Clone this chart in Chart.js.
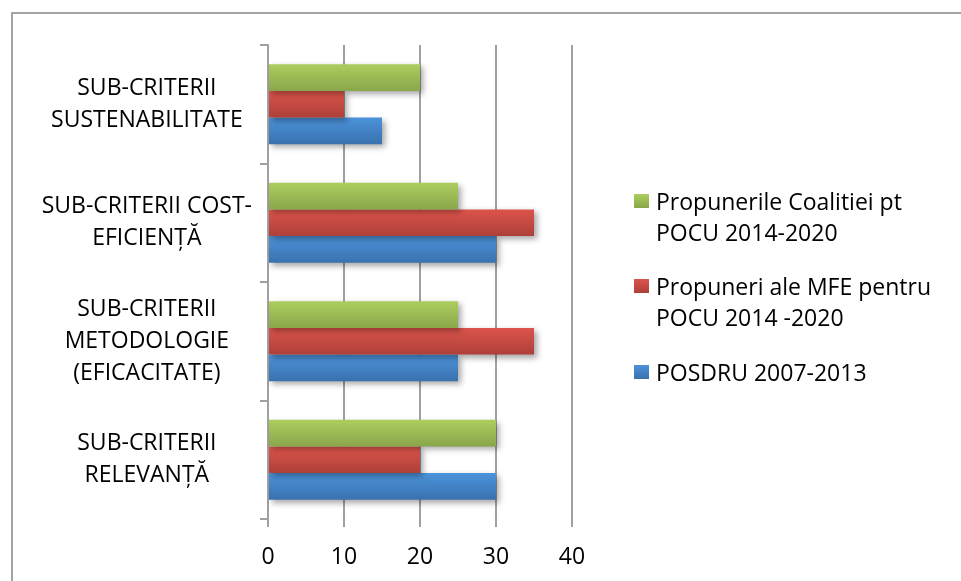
<!DOCTYPE html>
<html>
<head>
<meta charset="utf-8">
<script src="https://cdn.jsdelivr.net/npm/chart.js@4"></script>
<style>
    body { margin: 0; background: #fff; }
    #wrap { position: relative; width: 961px; height: 581px; overflow: hidden; font-family: "Open Sans", sans-serif; }
    #frame { position: absolute; left: 11px; top: 12px; width: 980px; height: 600px; border-left: 2px solid #a3a3a3; border-top: 2px solid #a3a3a3; }
    canvas { position: absolute; left: 0; top: 0; }
    .leg { position: absolute; left: 634px; font-size: 23px; line-height: 31px; color: #000; }
    .leg span.box { position: absolute; left: 0; top: 8px; width: 15px; height: 14px; }
    .leg div.txt { margin-left: 22px; white-space: nowrap; }
</style>
</head>
<body>
<div id="wrap">
    <div id="frame"></div>
    <canvas id="chart" width="961" height="581"></canvas>
    <div id="legend"></div>
</div>
<script>
// Datos del gráfico
const categorias = [
    ['SUB-CRITERII', 'SUSTENABILITATE'],
    ['SUB-CRITERII COST-', 'EFICIENȚĂ'],
    ['SUB-CRITERII', 'METODOLOGIE', '(EFICACITATE)'],
    ['SUB-CRITERII', 'RELEVANȚĂ']
];
const seriesNombres = [
    ['Propunerile Coalitiei pt', 'POCU 2014-2020'],
    ['Propuneri ale MFE pentru', 'POCU 2014 -2020'],
    ['POSDRU 2007-2013']
];
const coalitie = [20, 25, 25, 30];
const mfe = [10, 35, 35, 20];
const posdru = [15, 30, 25, 30];
const ticksX = [0, 10, 20, 30, 40];

// Colores (arriba claro, abajo oscuro)
const colores = [
    ['#acce5e', '#8aa64b'],
    ['#dc544b', '#ad4039'],
    ['#4b93db', '#3a71ae']
];
const CAT_PCT = 0.675;

function gradiente(idx) {
    return function(ctx) {
        const chart = ctx.chart;
        const y = chart.scales.y;
        if (!y || !y.height || ctx.dataIndex === undefined) return colores[idx][0];
        const band = y.height / categorias.length;
        const size = band * CAT_PCT / 3;
        const center = y.getPixelForValue(ctx.dataIndex);
        const top = center - band * CAT_PCT / 2 + idx * size;
        const g = chart.ctx.createLinearGradient(0, top, 0, top + size);
        g.addColorStop(0, colores[idx][0]);
        g.addColorStop(1, colores[idx][1]);
        return g;
    };
}

// Sombra de las barras
const sombra = {
    id: 'sombra',
    beforeDatasetsDraw(chart) {
        const c = chart.ctx;
        c.save();
        c.shadowColor = 'rgba(0,0,0,0.35)';
        c.shadowBlur = 6;
        c.shadowOffsetX = 3;
        c.shadowOffsetY = 3;
    },
    afterDatasetsDraw(chart) {
        chart.ctx.restore();
    }
};

const valores = [coalitie, mfe, posdru];
const datasets = valores.map((vals, i) => ({
    label: seriesNombres[i].join(' '),
    data: vals,
    backgroundColor: gradiente(i),
    borderWidth: 0,
    barPercentage: 1,
    categoryPercentage: CAT_PCT
}));

new Chart(document.getElementById('chart'), {
    type: 'bar',
    data: { labels: categorias, datasets: datasets },
    plugins: [sombra],
    options: {
        indexAxis: 'y',
        responsive: false,
        animation: false,
        layout: { padding: { top: 45, right: 389, bottom: 0, left: 0 } },
        plugins: { legend: { display: false }, tooltip: { enabled: false } },
        scales: {
            x: {
                min: ticksX[0],
                max: ticksX[ticksX.length - 1],
                afterBuildTicks: s => { s.ticks = ticksX.map(v => ({ value: v })); },
                afterFit: s => { s.height = 62; },
                grid: { color: '#a0a0a0', lineWidth: 2, tickLength: 8, drawTicks: true },
                border: { display: false },
                ticks: { color: '#000', padding: 17, font: { family: 'Open Sans', size: 23 } }
            },
            y: {
                afterFit: s => { s.width = 268; },
                grid: { drawOnChartArea: false, color: '#a0a0a0', lineWidth: 2, tickLength: 8, offset: true },
                border: { display: true, color: '#a0a0a0', width: 2 },
                ticks: {
                    color: '#000', padding: 8, crossAlign: 'center',
                    font: { family: 'Open Sans', size: 23, lineHeight: 1.4 }
                }
            }
        }
    }
});

// Leyenda en HTML
const legendTops = [186, 271, 357];
const legend = document.getElementById('legend');
seriesNombres.forEach((nombre, i) => {
    const item = document.createElement('div');
    item.className = 'leg';
    item.style.top = legendTops[i] + 'px';
    item.innerHTML = '<span class="box" style="background:linear-gradient(' + colores[i][0] + ',' + colores[i][1] + ')"></span>' +
        '<div class="txt">' + nombre.join('<br>') + '</div>';
    legend.appendChild(item);
});
</script>
</body>
</html>
